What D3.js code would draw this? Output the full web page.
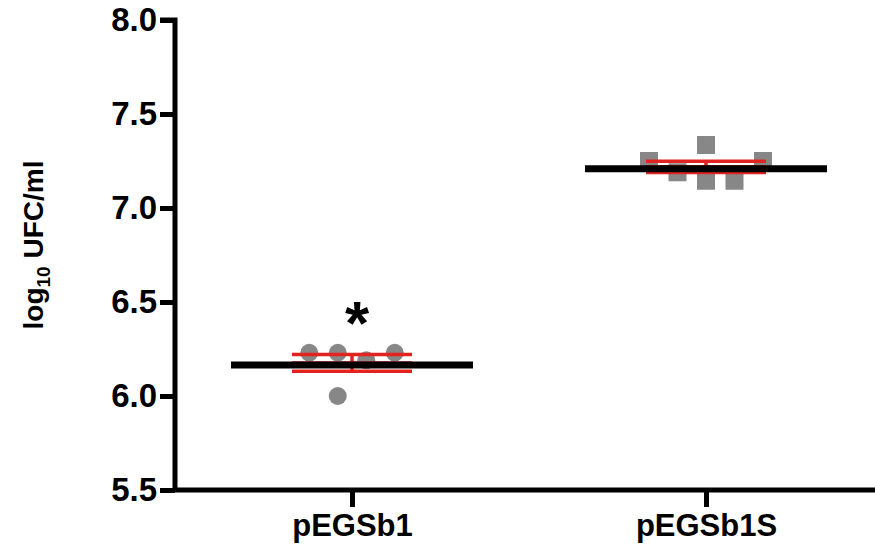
<!DOCTYPE html>
<html>
<head>
<meta charset="utf-8">
<script src="https://cdn.jsdelivr.net/npm/d3@7"></script>
<style>
  html, body { margin: 0; padding: 0; background: #fff; }
  svg { display: block; font-family: "Liberation Sans", Arial, Helvetica, sans-serif; }
</style>
</head>
<body>
<svg id="chart" width="875" height="550"></svg>
<script>
// ---- data ----
const categories = ["pEGSb1", "pEGSb1S"];
const pEGSb1Values = [6.23, 6.23, 6.19, 6.23, 6.00];
const pEGSb1Slots  = [-1.5, -0.5, 0.5, 1.5, -0.5];
const pEGSb1SValues = [7.25, 7.19, 7.335, 7.145, 7.145, 7.25];
const pEGSb1SSlots  = [-2, -1, 0, 0, 1, 2];
const yTicks = [5.5, 6.0, 6.5, 7.0, 7.5, 8.0];
const yDomain = [5.5, 8.0];
const significance = ["*", ""];

const groups = [
  { name: categories[0], values: pEGSb1Values, slots: pEGSb1Slots, shape: "circle", mark: significance[0] },
  { name: categories[1], values: pEGSb1SValues, slots: pEGSb1SSlots, shape: "square", mark: significance[1] }
];

// ---- layout ----
const svg = d3.select("#chart");
const mLeft = 175, mTop = 20, mBottom = 490;
const x = d3.scalePoint().domain(categories).range([mLeft, 883]).padding(0.5);
const y = d3.scaleLinear().domain(yDomain).range([mBottom, mTop]);
const slot = d3.scaleLinear().domain([0, 1]).range([0, 28.5]);
const meanHalf = 121, semHalf = 60;
const gray = "#878787", red = "#e3231f";

// points
groups.forEach(g => {
  const cx = x(g.name);
  const pts = g.values.map((v, i) => ({ v, dx: slot(g.slots[i]) }));
  if (g.shape === "circle") {
    svg.append("g").selectAll("circle").data(pts).join("circle")
      .attr("cx", d => cx + d.dx).attr("cy", d => y(d.v)).attr("r", 9)
      .attr("fill", gray);
  } else {
    svg.append("g").selectAll("rect").data(pts).join("rect")
      .attr("x", d => cx + d.dx - 9).attr("y", d => y(d.v) - 9)
      .attr("width", 18).attr("height", 18).attr("fill", gray);
  }
});

// error bars (mean ± SEM) and mean line
groups.forEach(g => {
  const cx = x(g.name);
  const m = d3.mean(g.values);
  const sem = d3.deviation(g.values) / Math.sqrt(g.values.length);
  const eb = svg.append("g").attr("stroke", red).attr("stroke-width", 3.5);
  [m - sem, m + sem, m].forEach(v => {
    eb.append("line").attr("x1", cx - semHalf).attr("x2", cx + semHalf)
      .attr("y1", y(v)).attr("y2", y(v));
  });
  eb.append("line").attr("x1", cx).attr("x2", cx)
    .attr("y1", y(m - sem)).attr("y2", y(m + sem));
  svg.append("line").attr("x1", cx - meanHalf).attr("x2", cx + meanHalf)
    .attr("y1", y(m) + 2).attr("y2", y(m) + 2)
    .attr("stroke", "#000").attr("stroke-width", 7);
  if (g.mark) {
    svg.append("text").attr("x", cx + 5).attr("y", y(d3.max(g.values)) - 9)
      .attr("text-anchor", "middle").attr("font-size", 62).attr("font-weight", "bold")
      .attr("fill", "#000").text(g.mark);
  }
});

// axes
const yAxis = svg.append("g").attr("transform", `translate(${mLeft},0)`)
  .call(d3.axisLeft(y).tickValues(yTicks).tickFormat(d3.format(".1f")).tickSize(15).tickPadding(3));
const xAxis = svg.append("g").attr("transform", `translate(0,${mBottom})`)
  .call(d3.axisBottom(x).tickSize(17).tickPadding(7));
[yAxis, xAxis].forEach(a => {
  a.select(".domain").attr("stroke", "#000").attr("stroke-width", 5);
  a.selectAll(".tick line").attr("stroke", "#000").attr("stroke-width", 5);
  a.selectAll(".tick text").attr("fill", "#000").attr("font-weight", "bold")
    .attr("font-family", "'Liberation Sans', Arial, sans-serif");
});
yAxis.select(".domain").attr("d", `M-15,${mTop}H0V${mBottom}`);
xAxis.select(".domain").attr("d", `M${mLeft},0H875`);
yAxis.selectAll(".tick text").attr("font-size", 33);
xAxis.selectAll(".tick text").attr("font-size", 31);

// y label
const yl = svg.append("text").attr("transform", "translate(43,245) rotate(-90)")
  .attr("text-anchor", "middle").attr("font-size", 28).attr("font-weight", "bold").attr("fill", "#000");
yl.append("tspan").text("log");
yl.append("tspan").attr("font-size", 19).attr("dy", 7).text("10");
yl.append("tspan").attr("dy", -7).text(" UFC/ml");
</script>
</body>
</html>
